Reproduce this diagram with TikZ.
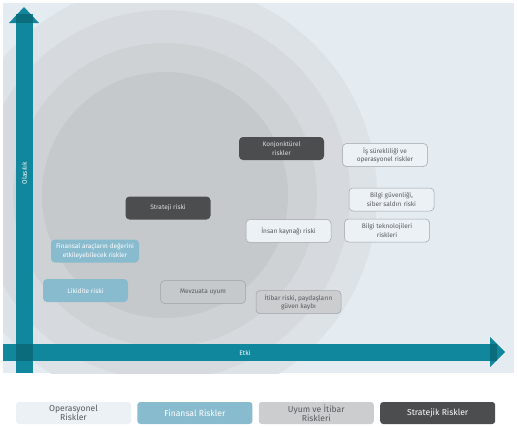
\documentclass[tikz,border=0pt]{standalone}
\usepackage{fontspec}
\setmainfont{Fira Sans}
\usetikzlibrary{positioning}

\definecolor{BackColor}{RGB}{228,236,241}
\definecolor{RingA}{RGB}{221,226,230}
\definecolor{RingB}{RGB}{214,218,222}
\definecolor{RingC}{RGB}{206,210,213}
\definecolor{RingD}{RGB}{197,201,204}
\definecolor{AxisColor}{RGB}{17,135,157}
\definecolor{AxisDark}{RGB}{11,108,124}
\definecolor{OpColor}{RGB}{236,241,245}
\definecolor{FinColor}{RGB}{137,187,206}
\definecolor{UyumColor}{RGB}{203,205,207}
\definecolor{StratColor}{RGB}{76,77,79}
\definecolor{EdgeColor}{RGB}{160,164,168}
\definecolor{TextDark}{RGB}{88,90,93}
\definecolor{TextLight}{RGB}{222,224,226}

\tikzset{
	riskbox/.style={rounded corners=4pt, minimum width=85pt, minimum height=23pt,
		inner sep=1pt, align=center, font=\fontsize{6.5}{8.5}\selectfont},
	opbox/.style={riskbox, fill=OpColor, draw=EdgeColor, line width=0.5pt, text=TextDark},
	finbox/.style={riskbox, fill=FinColor, text=white},
	uyumbox/.style={riskbox, fill=UyumColor, draw=EdgeColor, line width=0.5pt, text=TextDark},
	mevbox/.style={riskbox, fill=RingD, draw=EdgeColor, line width=0.5pt, text=TextDark},
	stratbox/.style={riskbox, fill=StratColor, text=TextLight},
	legendbox/.style={rounded corners=3pt, minimum width=115pt, minimum height=22pt,
		inner sep=1pt, align=center, font=\fontsize{8.6}{9.2}\selectfont},
	axislabel/.style={text=white, font=\fontsize{6.6}{7}\selectfont, inner sep=0pt}
}

\begin{document}
\begin{tikzpicture}[x=1pt, y=-1pt]
	\def\CenterX{165}
	\def\CenterY{195}
	\useasboundingbox (0,0) rectangle (518,426);
	%%%%%%%%%%%%%%%%%%%%%%%%%%%%%%%%%%%%%%%%%%%%%%%%%%%%%%%%%%
	% background and rings
	\fill[BackColor] (3,3) rectangle (514,373);
	\begin{scope}
		\clip (3,3) rectangle (514,373);
		\fill[RingA] (\CenterX,\CenterY) circle[radius=212pt];
		\fill[RingB] (\CenterX,\CenterY) circle[radius=185pt];
		\fill[RingC] (\CenterX,\CenterY) circle[radius=152pt];
		\fill[RingD] (\CenterX,\CenterY) circle[radius=123pt];
	\end{scope}
	%%%%%%%%%%%%%%%%%%%%%%%%%%%%%%%%%%%%%%%%%%%%%%%%%%%%%%%%%%
	% vertical axis
	\fill[AxisColor] (16,14) rectangle (33,373);
	\fill[AxisColor] (9,23) -- (24,7) -- (39,23) -- cycle;
	\begin{scope}
		\clip (9,23) -- (24,7) -- (39,23) -- cycle;
		\fill[AxisDark] (16,14) rectangle (33,23);
	\end{scope}
	\node[axislabel, rotate=90] (olasilik) at (24.5,173) {Olasılık};
	
	% horizontal axis
	\fill[AxisColor] (3,344) rectangle (497,361);
	\fill[AxisColor] (490,337) -- (505,352) -- (490,367) -- cycle;
	\begin{scope}
		\clip (490,337) -- (505,352) -- (490,367) -- cycle;
		\fill[AxisDark] (490,344) rectangle (497,361);
	\end{scope}
	\fill[AxisDark] (16,344) rectangle (33,361);
	\node[axislabel] (etki) at (245,352.5) {Etki};
	%%%%%%%%%%%%%%%%%%%%%%%%%%%%%%%%%%%%%%%%%%%%%%%%%%%%%%%%%%
	% risks
	\node[stratbox] (konj) at (281.5,148.5) {Konjonktürel\\riskler};
	\node[opbox] (issur) at (385,155) {İş sürekliliği ve\\operasyonel riskler};
	\node[opbox] (bilgiguv) at (391.5,199.5) {Bilgi güvenliği,\\siber saldırı riski};
	\node[opbox] (bilgitek) at (387,230.5) {Bilgi teknolojileri\\riskleri};
	\node[opbox] (insan) at (288.5,231) {İnsan kaynağı riski};
	\node[uyumbox] (itibar) at (298.5,302) {İtibar riski, paydaşların\\güven kaybı};
	\node[stratbox] (strateji) at (168,208) {Strateji riski};
	\node[finbox, minimum width=88pt] (finansal) at (95,251) {Finansal araçların değerini\\etkileyebilecek riskler};
	\node[finbox] (likidite) at (85.5,290.5) {Likidite riski};
	\node[mevbox] (mevzuat) at (203,292) {Mevzuata uyum};
	%%%%%%%%%%%%%%%%%%%%%%%%%%%%%%%%%%%%%%%%%%%%%%%%%%%%%%%%%%
	% legend
	\node[legendbox, fill=OpColor, text=TextDark] (legop) at (73.5,413) {Operasyonel\\Riskler};
	\node[legendbox, fill=FinColor, text=white, right=6pt of legop] (legfin) {Finansal Riskler};
	\node[legendbox, fill=UyumColor, text=TextDark, right=6pt of legfin] (leguyum) {Uyum ve İtibar\\Riskleri};
	\node[legendbox, fill=StratColor, text=white, right=6pt of leguyum] (legstrat) {Stratejik Riskler};
\end{tikzpicture}
\end{document}
